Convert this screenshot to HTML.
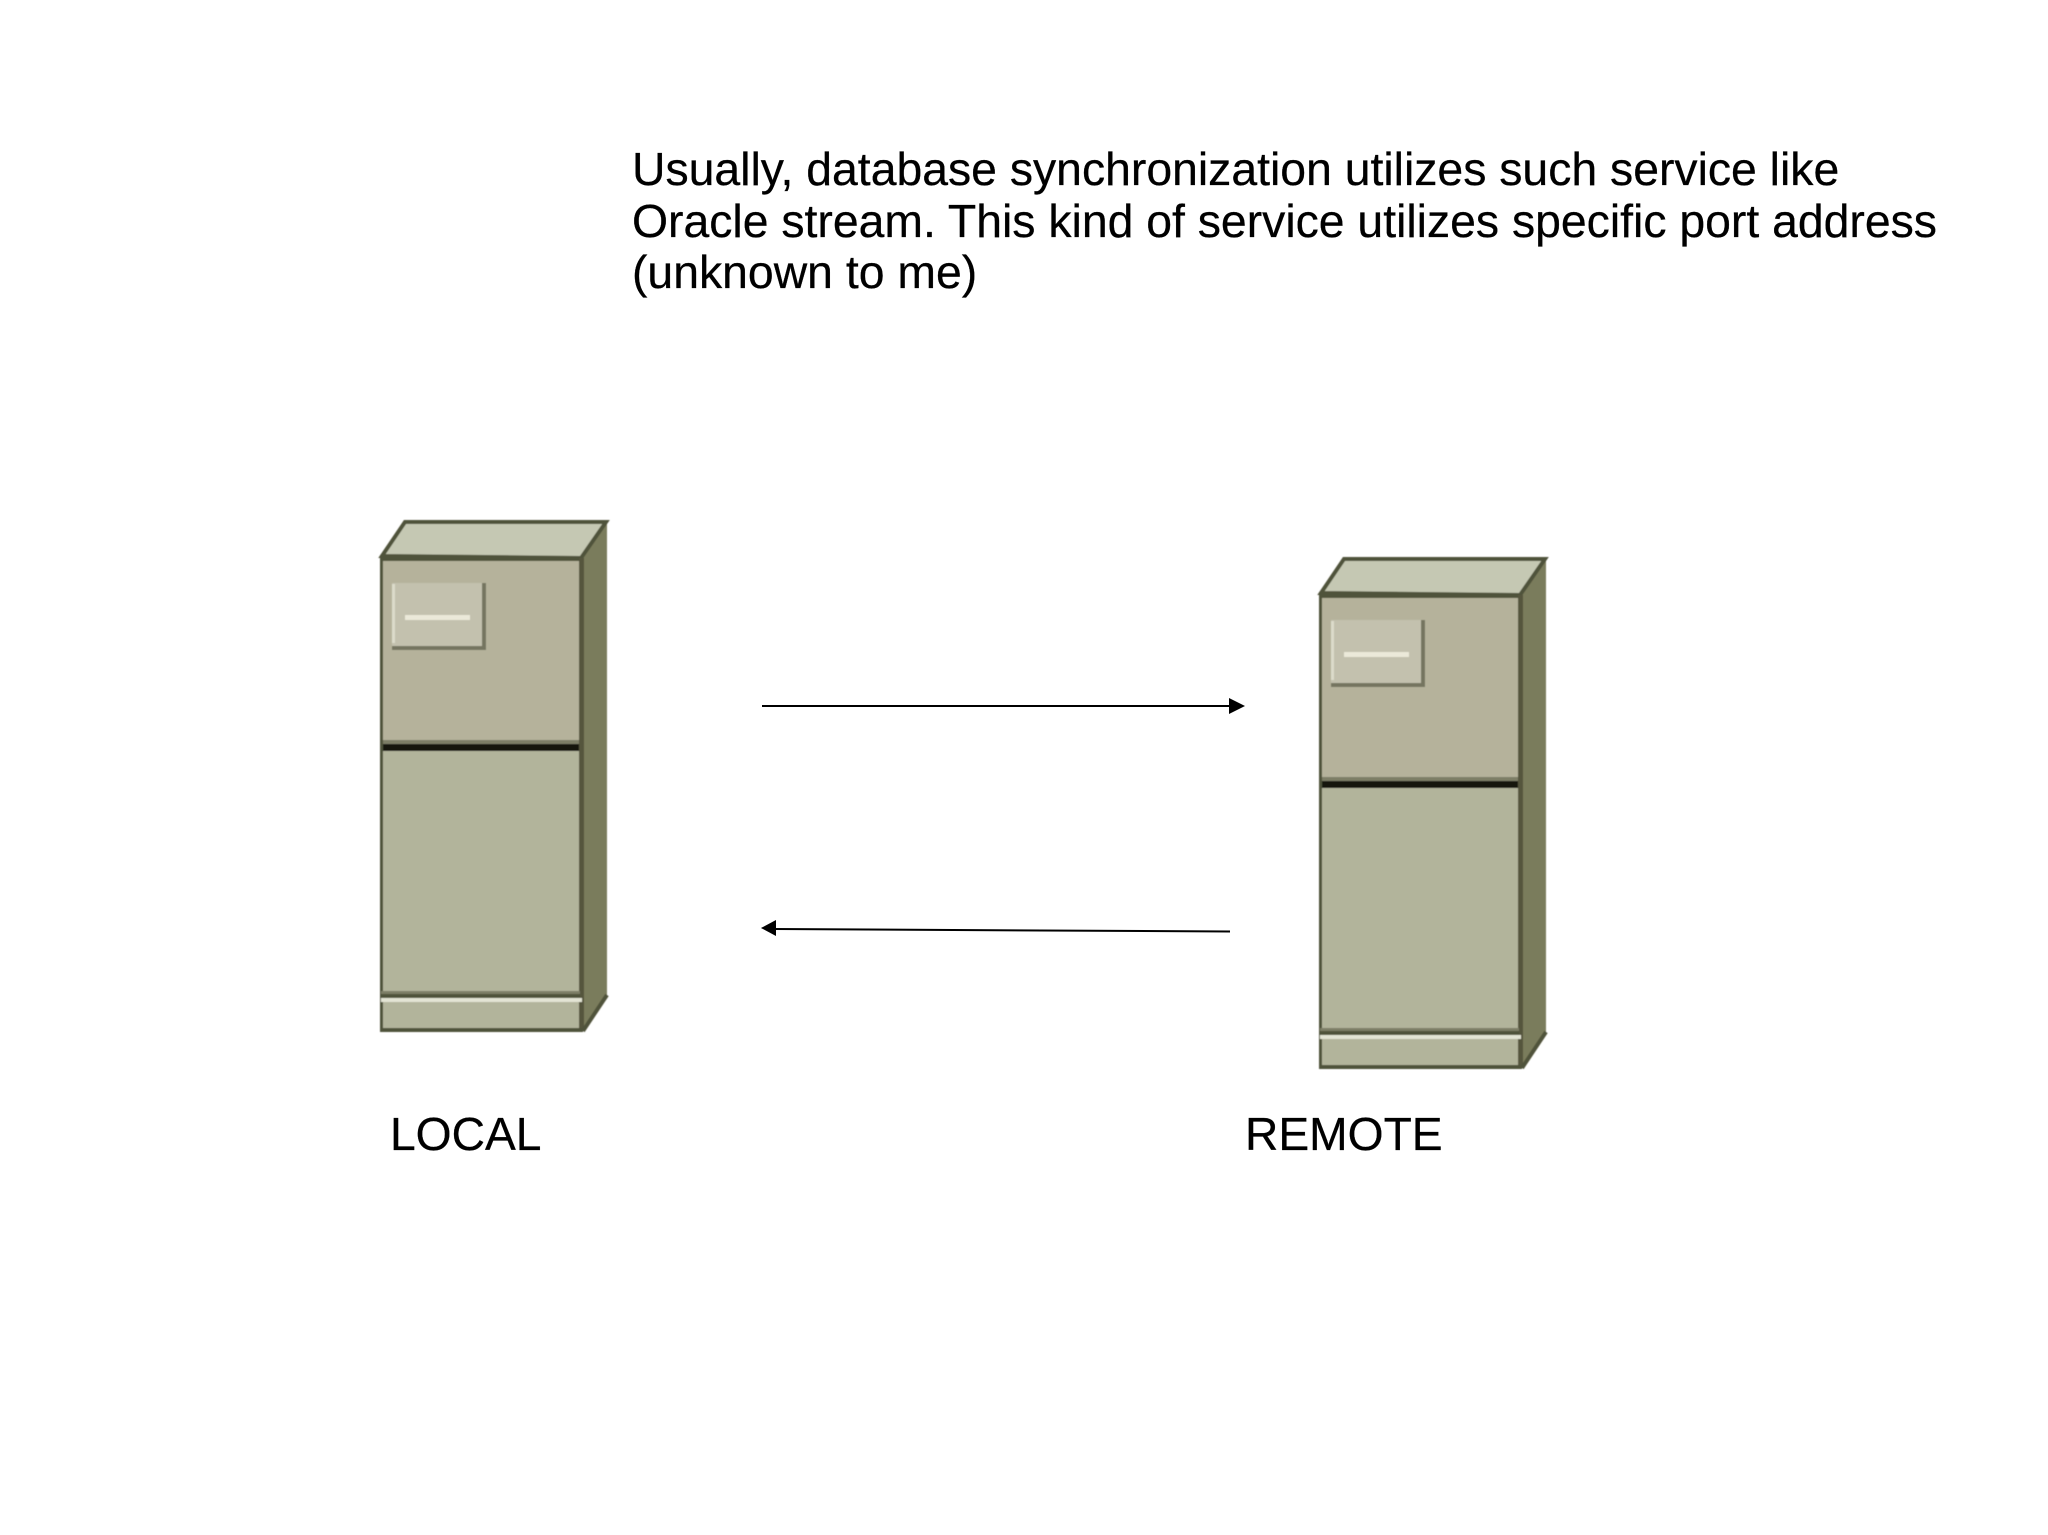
<!DOCTYPE html>
<html><head><meta charset="utf-8"><style>html,body{margin:0;padding:0;background:#fff}svg{display:block}text{font-family:"Liberation Sans",Arial,sans-serif;fill:#000;stroke:#000;stroke-width:.25px}</style></head>
<body>
<svg xmlns="http://www.w3.org/2000/svg" width="2048" height="1535" viewBox="0 0 2048 1535">
<defs>
<filter id="soft" x="-5%" y="-5%" width="110%" height="110%"><feGaussianBlur stdDeviation="0.6"/></filter>
<g id="srv" filter="url(#soft)">
  <polygon points="380,556 404,521 607,521 582,558 582,1030 607,996 607,521 582,558" fill="#7a7b5b"/>
  <polygon points="382,556 405,522 606,522 581,558" fill="#c5c8b3" stroke="#50523a" stroke-width="4"/>
  <rect x="381" y="560" width="199" height="183" fill="#b5b29b"/>
  <rect x="381" y="751" width="199" height="244" fill="#b2b49b"/>
  <rect x="381" y="1002" width="199" height="27" fill="#b2b49b"/>
  <rect x="380" y="557" width="203" height="4" fill="#50523a"/>
  <rect x="380" y="740" width="201" height="4" fill="#7d7e66"/>
  <rect x="381" y="744" width="200" height="7" fill="#14150c"/>
  <rect x="380" y="555" width="3" height="476" fill="#50523a"/>
  <rect x="579" y="558" width="5" height="473" fill="#54553c"/>
  <rect x="381" y="991" width="199" height="3" fill="#7d7e66"/>
  <rect x="381" y="994" width="199" height="4" fill="#50523a"/>
  <rect x="381" y="998" width="201" height="4" fill="#e3e4d4"/>
  <rect x="380" y="1028" width="203" height="4" fill="#50523a"/>
  <line x1="583" y1="1031" x2="607" y2="995" stroke="#50523a" stroke-width="4"/>
  <rect x="392" y="583" width="94" height="67" fill="#747560"/>
  <rect x="392" y="583" width="90" height="63" fill="#c3c1ae"/>
  <rect x="392" y="584" width="3" height="59" fill="#dcdbca"/>
  <rect x="405" y="615" width="65" height="5" fill="#ebe9d9"/>
</g>
</defs>
<rect width="2048" height="1535" fill="#fff"/>
<text x="632" y="185" font-size="46.35">Usually, database synchronization utilizes such service like</text>
<text x="632" y="237" font-size="46.35">Oracle stream. This kind of service utilizes specific port address</text>
<text x="632" y="288" font-size="46.35">(unknown to me)</text>
<use href="#srv"/>
<use href="#srv" x="939" y="37"/>
<line x1="762" y1="706" x2="1232" y2="706" stroke="#000" stroke-width="2"/>
<polygon points="1229,698 1245,706 1229,714" fill="#000"/>
<line x1="774" y1="929" x2="1230" y2="931.5" stroke="#000" stroke-width="2"/>
<polygon points="761,928 776,920 776,936" fill="#000"/>
<text x="390" y="1150" font-size="46.2">LOCAL</text>
<text x="1245" y="1150" font-size="46.2">REMOTE</text>
</svg>
</body></html>
